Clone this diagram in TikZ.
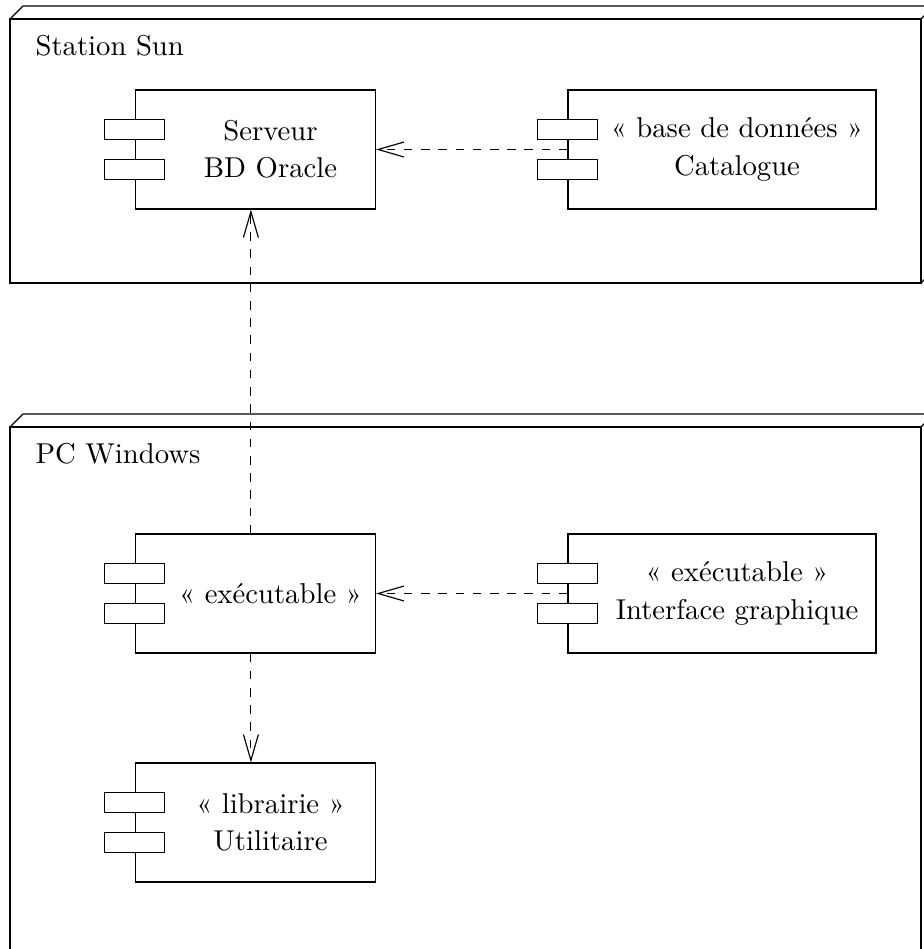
\documentclass[tikz,border=0pt]{standalone}
\usetikzlibrary{arrows.meta}
\tikzset{
  x=0.3485pt, y=-0.3485pt,
  comprect/.style={draw, line width=0.4pt, minimum height=41.47pt, inner sep=0pt},
  compport/.style={draw, fill=white, line width=0.4pt, minimum width=20.91pt, minimum height=6.97pt, inner sep=0pt},
  comptext/.style={align=center, inner sep=0pt},
  dep/.style={dashed, -{Straight Barb[length=9pt,width=5.2pt]}},
  frame/.style={line width=0.4pt},
}
\newcommand\umlcomp[4]{%
  \node[comprect, minimum width=#3] (#1) at (#2) {};
  \node[compport] (#1-p1) at ([yshift=6.97pt]#1.west) {};
  \node[compport] (#1-p2) at ([yshift=-6.97pt]#1.west) {};
  \node[comptext] (#1-t) at ([xshift=5.23pt]#1.center) {#4};
}
\begin{document}
\begin{tikzpicture}
\useasboundingbox (0,0) rectangle (924,949);
\clip (0,0) rectangle (924,949);
% Station Sun node
\draw[frame] (10,19) rectangle (921,283);
\draw[frame] (10,19) -- (23,6) -- (934,6) -- (921,19);
\draw[frame] (934,6) -- (934,270) -- (921,283);
\node[anchor=base west, inner sep=0pt] (sun) at (35,55) {Station Sun};
% PC Windows node
\draw[frame] (10,427) rectangle (921,1000);
\draw[frame] (10,427) -- (23,414) -- (934,414) -- (921,427);
\draw[frame] (934,414) -- (934,1000);
\node[anchor=base west, inner sep=0pt] (pc) at (35,463) {PC Windows};
% components
\umlcomp{serveur}{255.5,149.5}{83.64pt}{Serveur\\[1pt]BD Oracle}
\umlcomp{catalogue}{722,149.5}{107.34pt}{« base de données »\\[1pt]Catalogue}
\umlcomp{exec}{255.5,593.5}{83.64pt}{« exécutable »}
\umlcomp{interface}{722,593.5}{107.34pt}{« exécutable »\\[1pt]Interface graphique}
\umlcomp{util}{255.5,822.5}{83.64pt}{« librairie »\\[1pt]Utilitaire}
% dependencies
\draw[dep] (catalogue.west) -- (serveur.east);
\draw[dep] (interface.west) -- (exec.east);
\draw[dep] ([xshift=-1.6pt]exec.north) -- ([xshift=-1.6pt]serveur.south);
\draw[dep] ([xshift=-1.6pt]exec.south) -- ([xshift=-1.6pt]util.north);
\end{tikzpicture}
\end{document}
